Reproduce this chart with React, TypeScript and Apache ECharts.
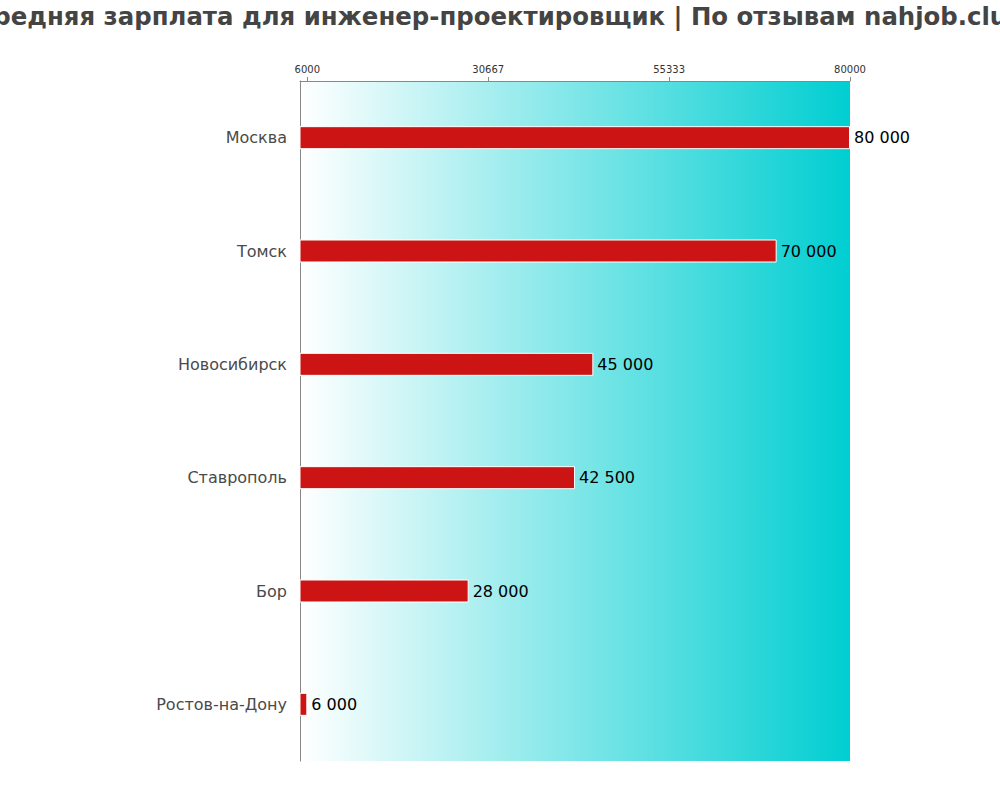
import React, { useEffect, useRef } from "react";
import * as echarts from "echarts";

const titleText = "Средняя зарплата для инженер-проектировщик | По отзывам nahjob.club";
const cities = ["Москва", "Томск", "Новосибирск", "Ставрополь", "Бор", "Ростов-на-Дону"];
const salaries = [80000, 70000, 45000, 42500, 28000, 6000];
const tickValues = [6000, 30667, 55333, 80000];
const axisMin = 5000;
const axisMax = 80000;

const fmt = (v: number) => String(v).replace(/\B(?=(\d{3})+(?!\d))/g, " ");

export default function App() {
  const ref = useRef<HTMLDivElement>(null);
  useEffect(() => {
    if (!ref.current) return;
    const chart = echarts.init(ref.current, null, { renderer: "svg" });
    chart.setOption({
      animation: false,
      textStyle: { fontFamily: "DejaVu Sans" },
      graphic: [
        {
          type: "text",
          x: 500,
          y: 16,
          style: {
            text: titleText,
            align: "center",
            verticalAlign: "middle",
            font: "bold 24.4px 'DejaVu Sans'",
            fill: "#444",
          },
        },
      ],
      grid: {
        left: 300,
        top: 81,
        width: 550,
        height: 680,
        show: true,
        borderWidth: 0,
        backgroundColor: new echarts.graphic.LinearGradient(0, 0, 1, 0, [
          { offset: 0, color: "#ffffff" },
          { offset: 1, color: "#00CED1" },
        ]),
      },
      xAxis: {
        type: "value",
        position: "top",
        min: axisMin,
        max: axisMax,
        axisLine: { show: true, lineStyle: { color: "#888", width: 1 } },
        axisTick: { show: true, length: 4, lineStyle: { color: "#888" }, customValues: tickValues },
        axisLabel: {
          customValues: tickValues,
          fontSize: 10,
          color: "#333",
          margin: 7,
          fontFamily: "DejaVu Sans",
          formatter: (v: number) => String(v),
        },
        splitLine: { show: false },
      },
      yAxis: {
        type: "category",
        data: cities,
        inverse: true,
        axisLine: { show: true, lineStyle: { color: "#888", width: 1 } },
        axisTick: { show: false },
        axisLabel: { fontSize: 16, color: "#4a4a4a", margin: 13, fontFamily: "DejaVu Sans" },
      },
      series: [
        {
          type: "bar",
          data: salaries,
          barWidth: 23,
          itemStyle: { color: "#CC1414", borderColor: "#ffffff", borderWidth: 1 },
          label: {
            show: true,
            position: "right",
            distance: 4,
            fontSize: 16,
            color: "#000",
            fontFamily: "DejaVu Sans",
            formatter: (p: any) => fmt(p.value),
          },
        },
      ],
    });
    return () => chart.dispose();
  }, []);
  return (
    <div
      ref={ref}
      style={{ position: "absolute", left: 0, top: 0, width: 1000, height: 800, overflow: "hidden" }}
    />
  );
}
